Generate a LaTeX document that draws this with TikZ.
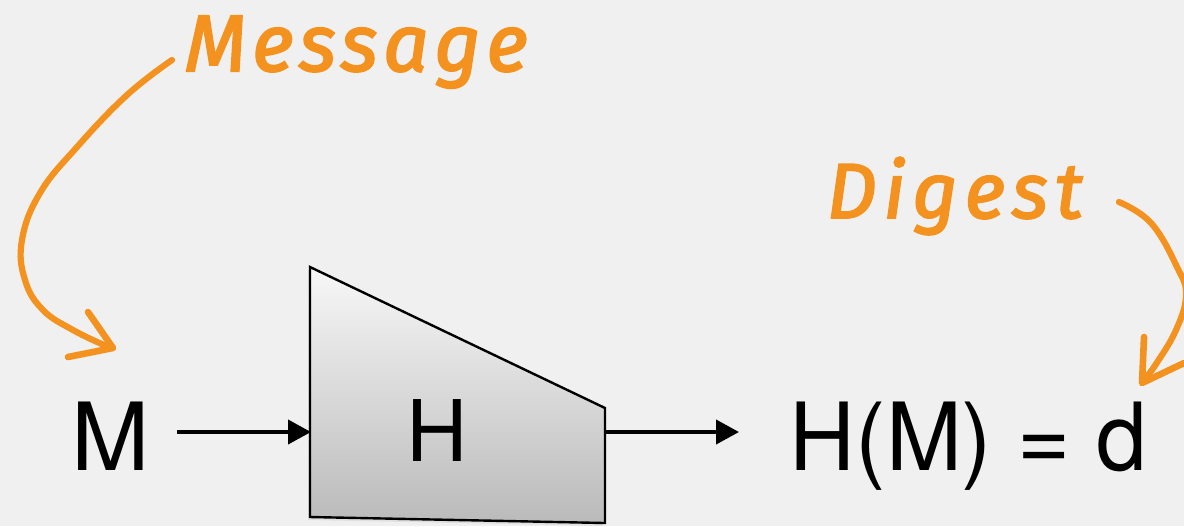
\documentclass[tikz,border=0pt]{standalone}
\usepackage{fontspec}
\setmainfont{TeX Gyre Heros}
\newfontfamily\handA{Fira Sans}[LetterSpace=7,ItalicFeatures={FakeBold=2.5}]
\newfontfamily\handB{Fira Sans}[LetterSpace=9,ItalicFeatures={FakeBold=2.5}]
\usetikzlibrary{arrows.meta}
\definecolor{bg}{RGB}{240,240,240}
\definecolor{crayon}{RGB}{243,146,30}
\tikzset{
  arr/.style={line width=1pt,-{Triangle[length=5.75pt,width=6pt]}},
  crayonline/.style={crayon,line width=1.55pt,line cap=round,line join=round},
  crayonhead/.style={crayon,line width=1.65pt,line cap=round,line join=round},
  bigtext/.style={inner sep=0pt,font=\fontsize{23.5}{25}\selectfont},
  handtext/.style={inner sep=0pt,text=crayon,anchor=base west}
}
\begin{document}
\begin{tikzpicture}[x=0.25pt,y=-0.25pt]
\fill[bg] (0,0) rectangle (1184,526);
\useasboundingbox (0,0) rectangle (1184,526);
\clip (0,0) rectangle (1184,526);
% hash function block
\coordinate (tl) at (310,267);
\coordinate (tr) at (605,408);
\coordinate (br) at (605,523);
\coordinate (bl) at (310,517);
\fill[black!12] ([shift={(-2,3)}]tl) -- ([shift={(-2,3)}]tr) -- ([shift={(-2,3)}]br) -- ([shift={(-2,3)}]bl) -- cycle;
\shade[top color=white!97!black,bottom color=white!73!black]
  (tl) -- (tr) -- (br) -- (bl) -- cycle;
\draw[line width=0.6pt,line join=miter] (tl) -- (tr) -- (br) -- (bl) -- cycle;
\node[bigtext,anchor=base,font=\fontsize{21.25}{23}\selectfont] (H) at (437,461) {H};
% text
\node[bigtext,anchor=base west] (M) at (71,470) {M};
\node[bigtext,anchor=base west] (HM) at (789,470) {\scalebox{0.97}[1]{H(M) = d}};
\coordinate (inS) at (177,432);
\coordinate (inE) at (311,432);
\coordinate (outS) at (605,432);
\coordinate (outE) at (739,432);
\draw[arr] (inS) -- (inE);
\draw[arr] (outS) -- (outE);
% handwritten labels
\node[handtext,font=\handA\itshape\fontsize{20}{22}\selectfont] (msg) at (184,71) {Message};
\node[handtext,font=\handB\itshape\fontsize{19.5}{21}\selectfont] (dig) at (826,218) {Digest};
% crayon arrows
\draw[crayonline] plot[smooth,tension=0.7] coordinates
  {(172,60) (127,95) (77,147) (40,193) (22,240) (25,280) (43,310) (73,330) (104,345)};
\coordinate (mtip) at (113,348);
\draw[crayonhead] (88,312) -- (mtip) -- (68,357);
\draw[crayonline] plot[smooth,tension=0.7] coordinates
  {(1119,202) (1151,223) (1177,267) (1186,295) (1176,330) (1156,364) (1144,380)};
\coordinate (dtip) at (1142,383);
\draw[crayonhead] (1144,337) -- (dtip) -- (1184,363);
\end{tikzpicture}
\end{document}
